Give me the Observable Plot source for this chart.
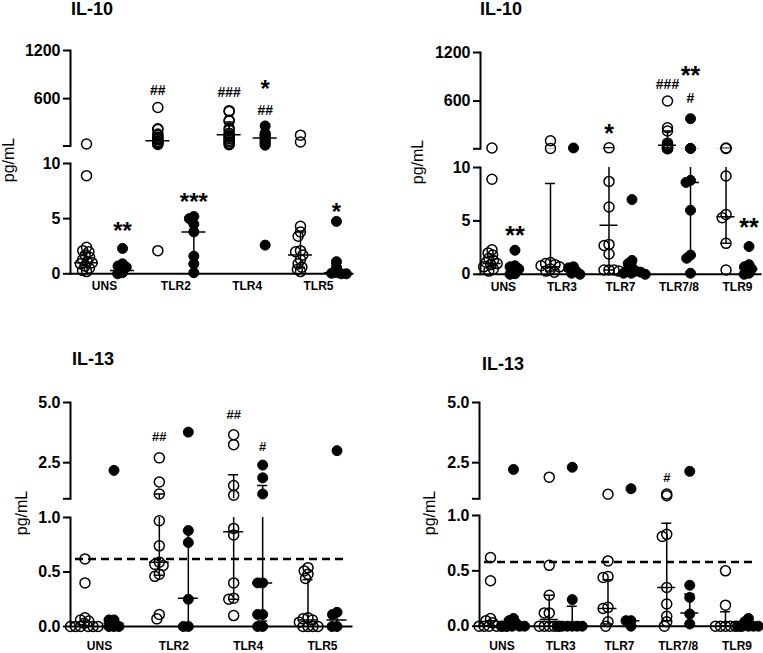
<!DOCTYPE html>
<html>
<head>
<meta charset="utf-8">
<script src="https://cdn.jsdelivr.net/npm/d3@7"></script>
<script src="https://cdn.jsdelivr.net/npm/@observablehq/plot@0.6"></script>
<style>
html,body{margin:0;padding:0;background:#fff;overflow:hidden}
#root{position:relative;width:763px;height:653px;font-family:"Liberation Sans",Arial,sans-serif;color:#000}
.abs{position:absolute}
.title{font-weight:bold;font-size:18px;line-height:18px;white-space:nowrap}
.ylab{font-size:16px;line-height:16px;white-space:nowrap;transform:translate(-50%,-50%) rotate(-90deg)}
</style>
</head>
<body>
<div id="root"></div>
<script>
// ---------------- DATA ----------------
// IL-10, left panel
const il10LeftCats = ["UNS", "TLR2", "TLR4", "TLR5"];
const il10LeftOpen = [
  [35, 8.9, 2.4, 2.1, 2.0, 1.7, 1.5, 1.3, 1.1, 1.0, 0.9, 0.7, 0.5, 0.3, 0.2],
  [490, 225, 215, 160, 140, 120, 100, 90, 70, 60, 50, 40, 30, 2.1],
  [450, 440, 330, 320, 230, 210, 170, 150, 130, 120, 100, 80, 60, 40, 25],
  [145, 60, 4.3, 3.8, 3.4, 2.1, 2.0, 1.7, 1.3, 0.9, 0.6, 0.4, 0.2]
];
const il10LeftFilled = [
  [2.3, 0.9, 0.7, 0.6, 0.4, 0.2, 0.1, 0.0],
  [5.2, 5.0, 4.5, 3.8, 1.6, 0.9, 0.1],
  [260, 170, 160, 140, 130, 120, 100, 90, 70, 50, 30, 20, 2.6],
  [4.75, 1.1, 0.6, 0.1, 0.05, 0.0, 0.0]
];
// [category, group, Q1, median, Q3]
const il10LeftStats = [
  ["UNS", "open", 0.6, 1.0, 1.9], ["UNS", "filled", 0.1, 0.3, 0.7],
  ["TLR2", "open", 45, 75, 150], ["TLR2", "filled", 0.9, 3.8, 5.1],
  ["TLR4", "open", 80, 150, 310], ["TLR4", "filled", 50, 110, 150],
  ["TLR5", "open", 0.6, 1.7, 3.8], ["TLR5", "filled", 0.0, 0.1, 0.9]
];
// [category, group, value, label]
const il10LeftNotes = [
  ["UNS", "filled", 4.4, "**"], ["TLR2", "open", 700, "##"], ["TLR2", "filled", 7.1, "***"],
  ["TLR4", "open", 680, "###"], ["TLR4", "filled", 450, "##"], ["TLR4", "filled", 800, "*"],
  ["TLR5", "filled", 6.2, "*"]
];

// IL-10, right panel
const il10RightCats = ["UNS", "TLR3", "TLR7", "TLR7/8", "TLR9"];
const il10RightOpen = [
  [20, 8.9, 2.3, 2.0, 1.8, 1.5, 1.3, 1.1, 1.0, 0.9, 0.7, 0.5, 0.3],
  [110, 15, 1.1, 1.0, 0.9, 0.8, 0.7, 0.5, 0.3, 0.2],
  [22, 8.7, 6.3, 2.8, 2.7, 1.9, 0.4, 0.4, 0.4, 0.3],
  [600, 270, 230, 80, 60, 50, 40, 30, 25, 20, 15, 12],
  [20, 15, 9.2, 5.6, 5.3, 2.9, 0.4]
];
const il10RightFilled = [
  [2.25, 0.8, 0.7, 0.5, 0.05, 0.0],
  [20, 0.7, 0.6, 0.3, 0.1, 0.0],
  [7.0, 1.3, 1.0, 0.6, 0.4, 0.3, 0.2, 0.1, 0.1, 0.0],
  [382, 15, 15, 8.8, 8.6, 6.0, 1.8, 1.5, 0.1],
  [2.6, 0.9, 0.7, 0.5, 0.1, 0.0]
];
const il10RightStats = [
  ["UNS", "open", 0.6, 1.0, 1.7], ["UNS", "filled", 0.05, 0.5, 0.8],
  ["TLR3", "open", 0.3, 0.7, 8.5], ["TLR3", "filled", 0.05, 0.3, 0.6],
  ["TLR7", "open", 0.4, 4.6, 22], ["TLR7", "filled", 0.1, 0.35, 1.0],
  ["TLR7/8", "open", 25, 55, 230], ["TLR7/8", "filled", 1.6, 8.6, 15],
  ["TLR9", "open", 2.9, 5.4, 16], ["TLR9", "filled", 0.05, 0.5, 0.9]
];
const il10RightNotes = [
  ["UNS", "filled", 4.2, "**"], ["TLR7", "open", 280, "*"], ["TLR7/8", "open", 810, "###"],
  ["TLR7/8", "filled", 635, "#"], ["TLR7/8", "filled", 995, "**"], ["TLR9", "filled", 5.0, "**"]
];

// IL-13, left panel
const il13LeftCats = ["UNS", "TLR2", "TLR4", "TLR5"];
const il13LeftOpen = [
  [0.62, 0.40, 0.08, 0.06, 0.05, 0.03, 0, 0, 0, 0, 0, 0],
  [2.7, 1.7, 1.2, 0.97, 0.74, 0.59, 0.57, 0.56, 0.48, 0.46, 0.11, 0.07],
  [3.66, 3.25, 1.55, 1.15, 0.9, 0.84, 0.4, 0.26, 0.25, 0.1],
  [0.54, 0.51, 0.48, 0.44, 0.08, 0.07, 0.06, 0.04, 0, 0, 0, 0]
];
const il13LeftFilled = [
  [2.18, 0.06, 0.06, 0, 0, 0],
  [3.77, 0.88, 0.77, 0.25, 0, 0],
  [2.4, 1.87, 1.2, 0.4, 0.4, 0.11, 0.11, 0, 0],
  [3.0, 0.13, 0.11, 0, 0]
];
const il13LeftStats = [
  ["UNS", "open", 0, 0, 0.05], ["UNS", "filled", 0, 0.03, 0.06],
  ["TLR2", "open", 0.47, 0.59, 1.2], ["TLR2", "filled", 0, 0.26, 0.88],
  ["TLR4", "open", 0.25, 0.87, 2.0], ["TLR4", "filled", 0.05, 0.4, 1.55],
  ["TLR5", "open", 0, 0.06, 0.43], ["TLR5", "filled", 0, 0.06, 0.12]
];
const il13LeftNotes = [
  ["TLR2", "open", 3.58, "##"], ["TLR4", "open", 4.48, "##"], ["TLR4", "filled", 3.17, "#"]
];
const il13LeftCutoff = 0.62;

// IL-13, right panel
const il13RightCats = ["UNS", "TLR3", "TLR7", "TLR7/8", "TLR9"];
const il13RightOpen = [
  [0.62, 0.41, 0.07, 0.05, 0.03, 0, 0, 0, 0, 0, 0],
  [1.9, 0.55, 0.28, 0.12, 0.12, 0, 0, 0, 0, 0],
  [1.19, 0.59, 0.45, 0.44, 0.17, 0.16, 0.04, 0],
  [1.2, 1.13, 0.83, 0.81, 0.35, 0.2, 0.09, 0.04, 0],
  [0.5, 0.19, 0, 0, 0, 0, 0, 0]
];
const il13RightFilled = [
  [2.22, 0.07, 0.05, 0.03, 0, 0, 0, 0, 0],
  [2.31, 0.24, 0, 0, 0, 0, 0, 0],
  [1.42, 0.05, 0.05, 0],
  [2.14, 0.37, 0.26, 0.11, 0.02],
  [0.07, 0.04, 0, 0, 0, 0, 0]
];
const il13RightStats = [
  ["UNS", "open", 0, 0, 0.05], ["UNS", "filled", 0, 0, 0.05],
  ["TLR3", "open", 0, 0.06, 0.28], ["TLR3", "filled", 0, 0, 0.18],
  ["TLR7", "open", 0.02, 0.16, 0.42], ["TLR7", "filled", 0, 0.05, 0.05],
  ["TLR7/8", "open", 0.05, 0.35, 0.93], ["TLR7/8", "filled", 0.02, 0.12, 0.29],
  ["TLR9", "open", 0, 0, 0.13], ["TLR9", "filled", 0, 0, 0.04]
];
const il13RightNotes = [["TLR7/8", "open", 1.86, "#"]];
const il13RightCutoff = 0.58;

// axis ticks (segmented axes)
const il10UpperTicks = [10, 600, 1200];
const il10UpperLabels = ["", "600", "1200"];
const il10LowerTicks = [0, 5, 10];
const il10LowerLabels = ["0", "5", "10"];
const il13UpperTicks = [1, 2.5, 5];
const il13UpperLabels = ["", "2.5", "5.0"];
const il13LowerTicks = [0, 0.5, 1];
const il13LowerLabels = ["0.0", "0.5", "1.0"];

// ---------------- BUILD ----------------
function rowsOf(cats, open, filled) {
  const out = [];
  cats.forEach((c, i) => {
    open[i].forEach(v => out.push({cat: c, grp: "open", v}));
    filled[i].forEach(v => out.push({cat: c, grp: "filled", v}));
  });
  return out;
}
const statsOf = a => a.map(([cat, grp, q1, med, q3]) => ({cat, grp, q1, med, q3}));
const notesOf = a => a.map(([cat, grp, y, label]) => ({cat, grp, y, label}));

const panels = [
  {title: "IL-10", cats: il10LeftCats, rows: rowsOf(il10LeftCats, il10LeftOpen, il10LeftFilled),
   stats: statsOf(il10LeftStats), notes: notesOf(il10LeftNotes), split: 10, cutoff: null,
   upper: {domain: [10, 1200], ticks: il10UpperTicks, labels: il10UpperLabels, top: 50, bottom: 145.5},
   lower: {domain: [0, 10], ticks: il10LowerTicks, labels: il10LowerLabels, top: 163, bottom: 273.3},
   x0: 70, x1: 352, fxPad: 0.046, off: 18, medW: 24, capW: 10,
   titleX: 71, titleY: 9, ylabX: 9, ylabY: 160, fxGap: 8, starSize: 24, hashSize: 14},
  {title: "IL-10", cats: il10RightCats, rows: rowsOf(il10RightCats, il10RightOpen, il10RightFilled),
   stats: statsOf(il10RightStats), notes: notesOf(il10RightNotes), split: 10, cutoff: null,
   upper: {domain: [10, 1200], ticks: il10UpperTicks, labels: il10UpperLabels, top: 51.7, bottom: 148},
   lower: {domain: [0, 10], ticks: il10LowerTicks, labels: il10LowerLabels, top: 166.5, bottom: 273.3},
   x0: 480, x1: 760, fxPad: 0.215, off: 11.5, medW: 18, capW: 10,
   titleX: 480, titleY: 9, ylabX: 418, ylabY: 162, fxGap: 8, starSize: 25, hashSize: 14},
  {title: "IL-13", cats: il13LeftCats, rows: rowsOf(il13LeftCats, il13LeftOpen, il13LeftFilled),
   stats: statsOf(il13LeftStats), notes: notesOf(il13LeftNotes), split: 1, cutoff: il13LeftCutoff,
   upper: {domain: [1, 5], ticks: il13UpperTicks, labels: il13UpperLabels, top: 401.7, bottom: 498},
   lower: {domain: [0, 1], ticks: il13LowerTicks, labels: il13LowerLabels, top: 516.7, bottom: 625.7},
   x0: 70, x1: 351, fxPad: 0.22, off: 14.5, medW: 20, capW: 10,
   titleX: 72, titleY: 359, ylabX: 22, ylabY: 513, fxGap: 15, starSize: 25, hashSize: 13},
  {title: "IL-13", cats: il13RightCats, rows: rowsOf(il13RightCats, il13RightOpen, il13RightFilled),
   stats: statsOf(il13RightStats), notes: notesOf(il13RightNotes), split: 1, cutoff: il13RightCutoff,
   upper: {domain: [1, 5], ticks: il13UpperTicks, labels: il13UpperLabels, top: 401.7, bottom: 498},
   lower: {domain: [0, 1], ticks: il13LowerTicks, labels: il13LowerLabels, top: 515, bottom: 625.7},
   x0: 479, x1: 759, fxPad: 0.234, off: 11.5, medW: 18, capW: 10,
   titleX: 482, titleY: 364, ylabX: 430, ylabY: 513, fxGap: 15, starSize: 25, hashSize: 13}
];

const root = document.getElementById("root");
const svgStyle = {background: "transparent", overflow: "visible", maxWidth: "none",
  fontFamily: "'Liberation Sans', Arial, sans-serif", color: "black"};

function addDiv(cls, text, left, top) {
  const d = document.createElement("div");
  d.className = "abs " + cls;
  d.textContent = text;
  d.style.left = left + "px";
  d.style.top = top + "px";
  root.appendChild(d);
  return d;
}
function place(svg, left, top) {
  const wrap = document.createElement("div");
  wrap.className = "abs";
  wrap.style.left = left + "px";
  wrap.style.top = top + "px";
  wrap.appendChild(svg);
  root.appendChild(wrap);
}

function drawSegment(p, s, isLower) {
  const ML = 64, MR = 14, MT = 18, MB = isLower ? 36 : 14;
  const W = p.x1 - p.x0, H = s.bottom - s.top;
  const n = p.cats.length;
  const step = W / (n - p.fxPad);
  const bw = step * (1 - p.fxPad);
  const xStep = 2 * p.off;
  const xPi = 1 - p.medW / xStep;
  const xPo = Math.max(0, (bw / xStep - 2 + xPi) / 2);
  const inSeg = v => isLower ? v <= p.split : v > p.split;
  const pts = p.rows.filter(d => inSeg(d.v));
  const notes = p.notes.filter(d => inSeg(d.y));
  const capInset = (p.medW - p.capW) / 2;
  const dodgePad = isLower ? -5 : -6;
  // the dodged dots inherit the band offset of the x scale (half the band width): undo it
  const half = p.medW / 2;
  const fmt = d => { const i = s.ticks.indexOf(d); return i < 0 ? "" : s.labels[i]; };
  const barStyle = {fx: "cat", x: "grp", stroke: "black", strokeWidth: 1.5, clip: true};
  const dims = {width: ML + W + MR, height: MT + H + MB,
    marginLeft: ML, marginRight: MR, marginTop: MT, marginBottom: MB};

  // dashed detection-limit line: a separate, unfaceted plot sharing the same y scale
  if (isLower && p.cutoff != null) {
    const overlay = Plot.plot({
      ...dims, style: svgStyle,
      y: {domain: s.domain, axis: null},
      marks: [Plot.ruleY([p.cutoff], {stroke: "black", strokeWidth: 2.5,
        strokeDasharray: "8,5", insetLeft: 5, insetRight: 4})]
    });
    place(overlay, p.x0 - ML, s.top - MT);
  }

  const marks = [
    Plot.ruleX(p.stats, {...barStyle, y1: "q1", y2: "q3"}),
    Plot.tickY(p.stats, {...barStyle, y: "med"}),
    Plot.tickY(p.stats, {...barStyle, y: "q1", insetLeft: capInset, insetRight: capInset}),
    Plot.tickY(p.stats, {...barStyle, y: "q3", insetLeft: capInset, insetRight: capInset}),
    Plot.dot(pts.filter(d => d.grp === "open"), Plot.dodgeX({anchor: "middle", padding: dodgePad},
      {fx: "cat", y: "v", r: 5, fill: "none", stroke: "black", strokeWidth: 1.5, dx: -p.off - half})),
    Plot.dot(pts.filter(d => d.grp === "filled"), Plot.dodgeX({anchor: "middle", padding: dodgePad},
      {fx: "cat", y: "v", r: 5, fill: "black", stroke: "black", strokeWidth: 1, dx: p.off - half})),
    Plot.text(notes.filter(d => d.label.includes("*")), {fx: "cat", x: "grp", y: "y", text: "label",
      fontSize: p.starSize, fontWeight: "bold", dy: p.starSize * 0.27}),
    Plot.text(notes.filter(d => d.label.includes("#")), {fx: "cat", x: "grp", y: "y", text: "label",
      fontSize: p.hashSize, fontWeight: "bold"}),
    Plot.axisY({ticks: s.ticks, tickFormat: fmt, tickSize: 7, tickPadding: 3, fontSize: 16,
      fontWeight: "bold", strokeWidth: 2, label: null}),
    Plot.frame({anchor: "left", facet: "super", stroke: "black", strokeWidth: 2})
  ];
  if (isLower) {
    marks.push(
      Plot.frame({anchor: "bottom", facet: "super", stroke: "black", strokeWidth: 2}),
      Plot.axisFx({anchor: "bottom", tickSize: 0, tickPadding: p.fxGap, fontSize: 12,
        fontWeight: "bold", label: null})
    );
  }
  const svg = Plot.plot({
    ...dims, style: svgStyle,
    fx: {domain: p.cats, paddingInner: p.fxPad, paddingOuter: 0, round: false, axis: null, label: null},
    x: {type: "band", domain: ["open", "filled"], paddingInner: xPi, paddingOuter: xPo, round: false, axis: null},
    y: {domain: s.domain, axis: null, label: null},
    marks
  });
  place(svg, p.x0 - ML, s.top - MT);
}

for (const p of panels) {
  drawSegment(p, p.upper, false);
  drawSegment(p, p.lower, true);
  addDiv("title", p.title, p.titleX, p.titleY - 9);
  addDiv("ylab", "pg/mL", p.ylabX, p.ylabY);
}
</script>
</body>
</html>
